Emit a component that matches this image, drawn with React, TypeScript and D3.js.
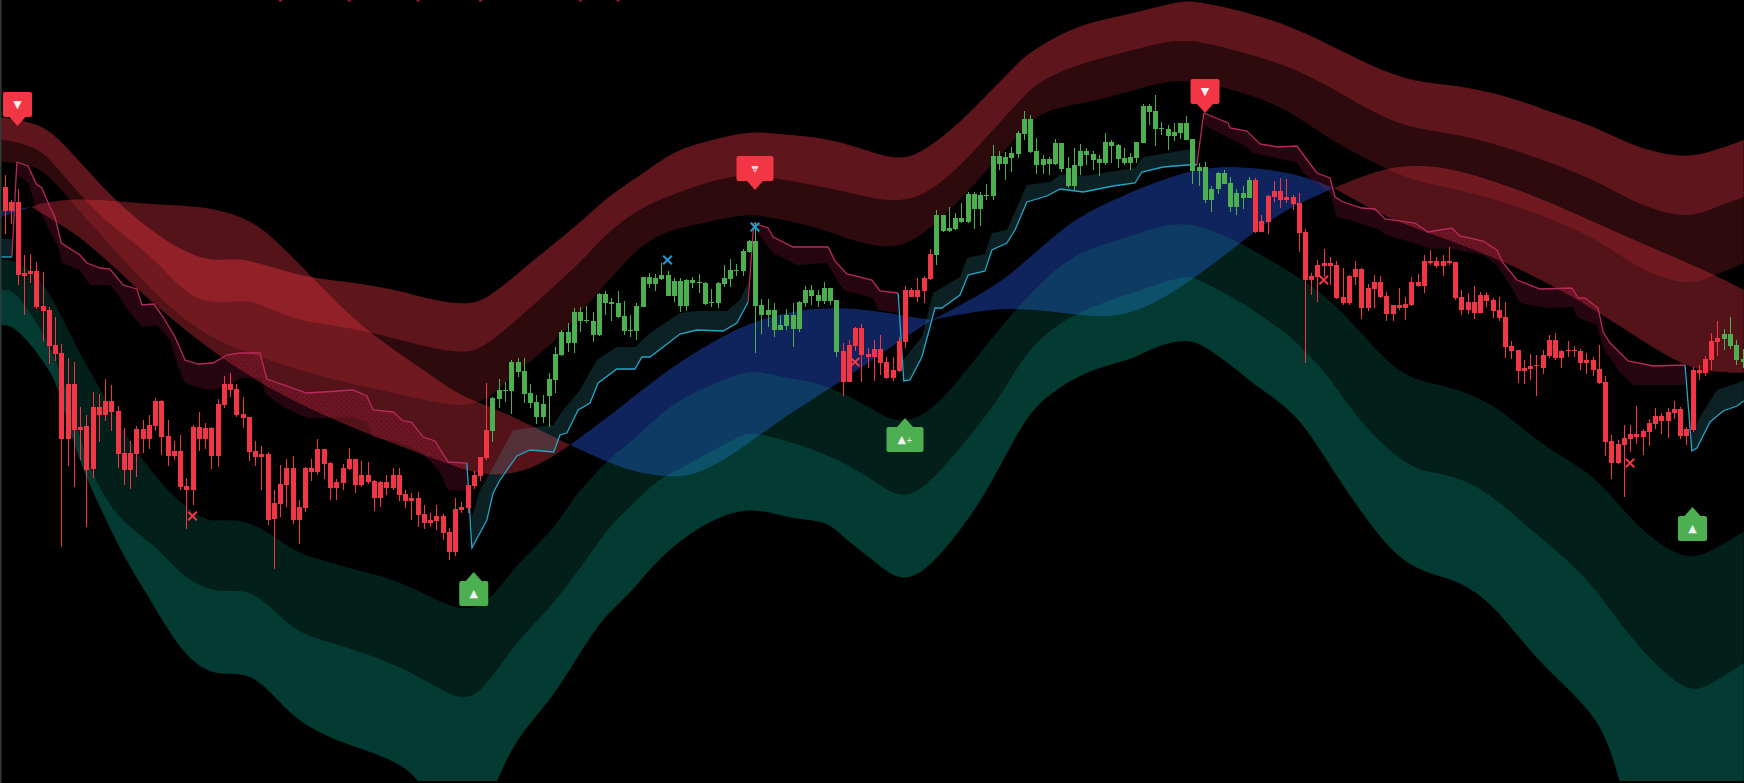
import * as d3 from 'd3'

type Pt = [number, number]

const WIDTH = 1744
const HEIGHT = 783
const BAR_COUNT = 279

// candle values, one entry per bar
const BODY_TOP = [
  613,598,598,527,529,529,494,490,455,447,416,416,373,374,393,393,399,399,389,347,
  347,371,371,375,399,399,364,349,349,314,373,373,372,372,396,416,416,411,
  386,383,349,346,346,297,316,332,332,293,332,332,351,351,337,318,332,341,341,325,
  325,319,318,318,325,325,306,302,302,286,280,284,284,268,291,293,315,325,343,370,
  402,410,
  410,438,438,429,407,398,396,421,446,468,468,488,488,480,479,506,506,498,497,484,
  470,494,523,523,522,525,525,519,519,520,520,518,517,498,517,522,530,530,549,559,
  559,495,490,490,475,485,485,498,510,510,505,512,512,500,449,455,472,472,446,451,
  451,438,430,459,510,510,510,522,546,
  585,585,572,582,582,606,606,605,605,644,644,643,647,667,681,681,649,641,641,657,
  657,632,635,649,649,646,641,658,658,655,642,643,658,694,694,689,672,671,668,677,
  677,661,633,633,611,627,627,617,607,607,620,620,579,604,609,609,603,603,597,
  568,524,535,537,537,535,503,524,531,531,512,518,518,504,495,495,496,518,518,539,
  539,539,539,539,538,503,498,498,505,505,500,490,483,454,450,432,434,435,445,460,
  460,449,450,450,449,440,440,431,418,359,356,362,366,366,369,377,384,384,388,391,
  391,371,430,430,441,459,462,466,466,455,441,
]
const BODY_BOTTOM = [
  589,589,525,524,526,493,489,454,446,361,361,370,370,330,331,385,385,388,346,330,
  330,346,361,361,374,363,344,344,313,310,310,361,361,344,344,395,410,385,
  382,348,343,343,280,281,296,315,280,280,292,328,328,336,312,312,317,331,315,315,
  318,302,302,312,312,305,299,299,285,277,277,279,267,248,248,290,292,314,324,342,
  369,401,
  409,409,428,406,397,383,383,404,420,445,457,457,479,479,465,465,497,496,483,469,
  469,469,493,516,516,521,504,504,494,494,517,517,496,497,497,516,521,529,529,548,
  494,485,485,470,470,474,471,471,497,504,499,499,499,448,418,418,454,445,443,443,
  437,422,422,429,458,503,503,509,521,
  545,569,569,571,578,578,591,591,604,604,636,636,642,646,666,648,635,635,636,636,
  631,614,614,634,645,640,637,637,654,641,637,637,642,657,688,671,671,664,664,667,
  660,629,629,600,600,611,616,593,593,602,602,568,568,578,603,600,600,596,567,
  520,520,523,534,534,502,497,497,523,492,492,511,503,486,486,492,492,495,514,514,
  537,534,534,537,502,490,490,487,487,499,489,482,453,449,429,429,431,434,432,444,
  442,442,449,449,437,437,430,417,358,337,337,355,361,363,363,368,376,379,379,387,
  364,364,370,427,427,440,458,461,454,440,438,
]
const WICK_TOP = [
  625,600,611,545,546,538,528,493,483,456,442,438,393,385,408,406,421,415,394,372,
  359,374,380,385,402,400,380,359,365,322,375,388,377,373,401,424,427,416,
  403,383,359,354,348,310,335,341,344,300,333,341,361,351,338,321,336,352,341,339,
  338,320,319,325,332,332,310,307,308,295,287,295,286,272,302,298,315,329,343,417,
  403,421,
  418,440,442,442,416,405,405,427,453,470,477,492,493,494,488,507,509,502,509,499,
  485,497,523,527,526,537,529,522,522,521,523,526,518,511,518,535,541,536,551,560,
  578,501,501,497,485,491,497,499,514,515,510,518,512,500,457,460,473,476,452,460,
  465,443,443,463,514,512,522,524,551,
  590,585,593,587,597,608,608,608,616,655,649,648,653,669,689,685,662,645,643,661,
  657,643,652,656,652,649,645,667,660,656,652,647,658,696,696,705,678,675,677,677,
  684,661,637,638,614,628,630,623,611,614,623,622,585,605,619,622,621,605,607,
  571,527,540,551,543,539,532,525,539,532,516,525,524,508,495,512,503,523,526,545,
  550,543,545,553,538,510,507,514,508,508,502,503,498,459,450,440,446,445,450,465,
  467,450,459,454,451,447,443,455,424,365,360,375,375,394,371,381,392,387,392,399,
  393,373,433,435,444,467,479,471,483,460,451,
]
const WICK_BOTTOM = [
  566,576,515,485,517,491,459,436,439,253,334,313,340,273,322,358,379,369,332,315,
  311,323,347,351,369,345,334,340,310,271,295,349,351,331,333,392,403,383,
  372,339,334,310,275,231,283,293,276,256,288,319,325,321,300,300,310,330,307,313,
  316,289,293,305,310,299,292,280,273,271,273,270,260,240,244,287,287,311,319,340,
  358,392,
  398,386,423,397,392,376,377,373,407,444,448,447,468,477,458,464,485,479,482,465,
  463,460,493,512,509,520,504,498,488,489,512,507,495,493,492,513,513,524,524,547,
  447,466,473,463,470,470,453,468,493,495,493,496,495,443,404,418,449,418,432,419,
  425,421,419,428,452,503,498,497,520,
  535,568,568,570,577,577,571,574,600,600,630,620,628,642,660,647,626,626,625,635,
  628,612,609,625,635,630,624,635,637,632,635,630,637,657,675,654,665,650,659,661,
  660,616,614,597,588,606,616,588,585,591,602,567,568,566,598,592,597,590,548,
  437,505,498,523,515,501,495,495,515,481,489,492,502,479,479,490,480,494,513,507,
  535,532,524,535,500,485,486,481,487,493,482,479,442,441,417,416,420,404,426,442,
  440,432,443,443,430,426,424,416,344,321,336,303,348,356,345,354,371,366,362,381,
  361,355,368,420,424,430,444,450,451,435,432,
]
const UP_TREND_RANGES: Pt[] = [[78, 133], [149, 199], [275, 278]]

// upper zone edges, [bar, price]
const UPPER_TOP: Pt[] = [[-1,683],[5.3,677],[8.3,664],[13.3,629],[18.2,596],[23.7,568],[28.6,548],[33.4,538],[37.1,543],[42.1,534],[49.4,521],[55.5,518],[62.2,511],[68.3,500],[73.6,495],[77.1,500],[84,537],[87.2,553],[92.5,580],[96.3,603],[101.1,622],[105.3,642],[109.6,655],[118.7,669],[122.4,667],[131.5,662],[136.3,653],[142.7,639],[146.9,647],[153.9,683],[162.4,740],[164.6,750],[169.9,770],[175.2,780],[180.8,787],[188.4,800],[191,798],[197.6,790],[206.1,773],[212,755],[223.8,718],[231.7,716],[241,703],[246.3,690],[254.7,673],[260.6,653],[268.8,641],[273.8,650],[278.2,660]]
const UPPER_MID: Pt[] = [[-1,661],[5.3,654],[8.3,632],[13.3,596],[17.6,571],[23.7,543],[29.1,504],[33.4,496],[38.4,500],[40.8,496],[45.8,482],[49.4,477],[57.4,470],[66.6,454],[73.6,446],[76.5,452],[81.9,480],[87.2,510],[92.5,540],[96.3,567],[101.6,592],[105.9,603],[111.7,617],[119.2,628],[124.5,620],[130.9,613],[135.2,607],[142.7,596],[148,607],[153.9,640],[161.9,697],[165.1,717],[169.3,730],[175.2,742],[180.8,750],[188.6,764],[197.6,748],[206.7,732],[216,698],[223.8,672],[231.7,667],[241,652],[254.7,620],[260.6,597],[268.8,580],[273.8,593],[278.2,603]]
const UPPER_BOTTOM: Pt[] = [[-1,638],[4.5,637],[7.7,620],[10.4,600],[14.9,568],[22.6,515],[30.4,470],[38.2,448],[46.1,432],[53.9,418],[61.6,408],[69.4,397],[73.6,393],[78.1,403],[81.9,430],[87.2,453],[92.5,490],[97.9,530],[103.2,563],[108.5,573],[113.9,580],[119.2,587],[124.5,580],[129.9,573],[135.2,560],[142.7,548],[148.5,573],[153.9,607],[161.9,663],[165.1,688],[172.5,697],[175.2,701],[180.8,710],[188.6,724],[197.6,708],[204.8,693],[212,660],[217.3,643],[224.5,620],[231.7,612],[241,597],[254.7,563],[260.6,533],[268.8,513],[273.8,525],[278.2,537]]

// cloud edges between the crossings
const CLOUD_BLUE_0_TOP: Pt[] = [[-1,589],[4.2,593]]
const CLOUD_BLUE_0_BOTTOM: Pt[] = [[-1,582],[4.2,593]]
const CLOUD_RED_1_TOP: Pt[] = [[4.2,593],[5.3,596],[11.5,603],[23.7,595],[32.3,594],[38.4,582],[42.1,568],[49.4,521],[57.4,470],[66.6,432],[72.6,404],[78.2,393],[90.4,355]]
const CLOUD_RED_1_BOTTOM: Pt[] = [[4.2,593],[10.2,571],[14.6,550],[23.7,496],[32.3,452],[42.1,411],[54.2,375],[66.6,346],[73.9,329],[78.7,323],[85,332],[90.4,355]]
const CLOUD_BLUE_1_TOP: Pt[] = [[90.4,355],[98,390],[105.3,427],[111.7,453],[118.1,475],[124.5,487],[129.9,492],[135.2,492],[140.5,488],[145.9,482],[148.3,480]]
const CLOUD_BLUE_1_BOTTOM: Pt[] = [[90.4,355],[96.3,338],[101.1,327],[107.5,322],[111.2,327],[117.1,347],[124.5,383],[132.5,413],[142.7,457],[148.3,480]]
const CLOUD_BLUE_2_TOP: Pt[] = [[148.3,480],[156.5,507],[161.3,527],[169.3,573],[175.2,595],[188.5,630],[196.8,635],[206.7,627],[212.6,612]]
const CLOUD_BLUE_2_BOTTOM: Pt[] = [[148.3,480],[156.5,490],[162,492],[170,487],[176.8,481],[183.2,493],[190.7,523],[197.6,557],[204.5,590],[212.6,612]]
const CLOUD_RED_2_TOP: Pt[] = [[212.6,612],[220.5,632],[225.8,635],[231.7,632],[241,613],[247.5,597],[260.6,560],[273.8,525],[278.2,510]]
const CLOUD_RED_2_BOTTOM: Pt[] = [[212.6,612],[221.1,582],[227.8,567],[241,537],[254.7,490],[267.2,437],[272.5,428],[278.2,427]]

// lower zone edges
const LOWER_TOP: Pt[] = [[-1,541],[1.1,540],[3.5,533],[6.1,517],[8.3,493],[10.4,467],[12.5,440],[14.7,417],[17.3,387],[20.5,353],[23.7,327],[26.9,303],[31.2,283],[33.3,278],[37.8,282],[42.4,267],[46.6,247],[50.6,240],[56.2,230],[63.5,218],[69,200],[73.1,189],[77.3,195],[81.9,237],[87.4,267],[91,303],[93.6,320],[96.3,340],[101.1,363],[104.3,383],[108.5,403],[113.9,417],[119.2,432],[124.5,422],[129.9,418],[134.1,407],[138.4,392],[143,375],[148,387],[152.6,420],[158.1,463],[161.8,492],[169.3,540],[175.2,555],[181.8,567],[188.6,582],[197.6,558],[201.4,543],[210.7,510],[217.3,465],[223.8,420],[230.7,415],[238.1,397],[243.5,367],[249.1,343],[254.6,323],[259.2,287],[263.7,260],[268.8,241],[272,245],[278.2,268]]
const LOWER_MID: Pt[] = [[-1,510],[0.8,511],[2.4,502],[4.5,483],[6.7,460],[8.8,430],[11.5,373],[13.6,330],[17.1,290],[20.5,270],[24,255],[28.6,222],[33.6,207],[37.8,211],[41,203],[46.1,170],[50.6,160],[56.2,150],[63.5,133],[69.9,110],[73.1,100],[76.3,107],[81.9,160],[87.4,193],[93,240],[96.5,273],[101.1,300],[104.3,320],[108.5,333],[117.1,363],[119.2,368],[122.4,364],[128.8,352],[134.2,338],[138.9,320],[143,302],[146.6,308],[152.6,350],[159,400],[162.7,443],[168.2,477],[175.2,497],[181.8,510],[188.6,525],[190.7,522],[198.2,497],[203.5,473],[206.1,462],[212,423],[215,393],[220.6,353],[226.1,328],[230.7,327],[237.1,310],[243.5,273],[253.6,223],[260,160],[268.8,107],[272,112],[278.2,137]]
// this edge runs off the bottom of the pane and is cut there
const LOWER_BOTTOM: Pt[] = [[-1,475],[0.8,475],[2.4,467],[4.5,453],[6.7,433],[8.3,417],[10.4,367],[13.1,320],[15.7,287],[17.9,257],[20.3,230],[23,203],[28.6,143],[33.6,124],[37.8,128],[41.4,117],[46.6,78],[53.4,58],[61.6,42],[66,24],[69,-10],[73,-40],[77,-10],[79,25],[82.4,67],[87.4,100],[92,147],[95.7,183],[100.2,207],[103.8,237],[110.4,272],[118.6,296],[125.9,280],[131.5,280],[134.2,262],[138.9,240],[143,218],[147,227],[151.7,260],[156.3,300],[160,343],[163.7,387],[168.2,412],[174.7,433],[180.2,440],[183.8,453],[189,462],[192.2,453],[196.6,433],[200.3,413],[206.7,387],[211.4,340],[217,287],[223.8,233],[230.7,223],[235.2,210],[239.8,183],[245.4,137],[254.6,87],[257.5,40],[259.5,-10],[262,-60],[278.2,-60]]

// trailing stop, resistance legs
const RESIST_1: Pt[] = [[1.9,638],[3.7,634],[5,616],[5.9,612],[7.2,593],[8,583],[9,557],[12,545],[13.1,537],[15.2,532],[16.8,531],[18.9,515],[21.1,511],[21.9,495],[23.8,496],[25.3,483],[27.2,463],[28.8,440],[30.9,436],[33.3,437],[35.5,445],[37.6,447],[40.8,447],[41.9,421],[48.3,407],[50.9,408],[55.7,410],[57.9,404],[58.9,390],[62.1,388],[63.7,379],[65,378],[66.9,363],[68.8,359],[70.9,338],[73.9,337]]
const RESIST_1_LOW: Pt[] = [[1.9,625],[3.7,618],[4.8,595],[5.9,585],[7.2,568],[8.5,553],[9.1,537],[12,530],[13.6,515],[16.8,515],[18.1,505],[19.7,490],[21.9,473],[24.3,475],[26.4,460],[27.5,437],[28.8,417],[31.2,412],[33.3,410],[36.5,417],[37.6,422],[41.1,422],[41.6,407],[44.5,393],[48.3,382],[50.9,382],[55.7,383],[58.1,377],[58.9,363],[62.7,358],[65.3,352],[67.5,342],[69.6,328],[70.9,310],[73.9,309]]
const RESIST_2: Pt[] = [[119.8,577],[122.1,572],[122.9,563],[126.1,553],[131.7,553],[132.8,539],[134.7,526],[138.7,520],[140,509],[142.9,507]]
const RESIST_2_LOW: Pt[] = [[119.8,572],[122.9,547],[126.7,535],[131.5,537],[134.1,510],[138.9,502],[139.7,490],[142.9,487]]
const RESIST_3: Pt[] = [[191.8,687],[195.7,677],[196,672],[198.7,669],[200.8,656],[203.7,653],[206.7,654],[209.9,627],[212,622],[212.8,603],[214.1,598],[217.1,592],[219.2,591],[220.8,581],[225.6,577],[227.7,568],[231.5,572],[232.8,564],[236.5,559],[238.7,550],[239.7,537],[241.9,520],[245.6,511],[250.7,512],[251.7,502],[252.8,502],[254.9,492],[255.7,468],[256.8,457],[259.7,439],[263.7,434],[268.8,435]]
const RESIST_3_LOW: Pt[] = [[191.8,675],[198.7,653],[199.7,647],[206.7,638],[207.7,627],[212,607],[213.1,583],[215.2,580],[220,570],[221.1,565],[228.5,551],[230.7,552],[236.5,545],[238.7,535],[241.3,510],[242.4,497],[246.7,492],[250.9,493],[251.5,483],[254.7,475],[255.7,452],[258.4,427],[260.5,415],[268.8,415]]

// trailing stop, support legs
const SUPPORT_0: Pt[] = [[-1,543],[1.1,543]]
const SUPPORT_0_HIGH: Pt[] = [[-1,561],[1.1,561]]
const SUPPORT_1: Pt[] = [[73.9,337],[74.7,252],[77.1,280],[78.1,307],[79.2,320],[81.9,344],[84,350],[87.8,348],[88.8,365],[89.9,367],[91.7,390],[93.6,397],[94.9,417],[97.9,431],[100.8,431],[101.9,443],[103.2,443],[108,466],[110.7,470],[114.9,469],[117.1,477],[118.9,498]]
const SUPPORT_1_HIGH: Pt[] = [[74.7,283],[76,310],[78.1,333],[81.3,370],[87.7,375],[89.3,390],[92,410],[94.7,440],[97.9,453],[100.8,453],[103.2,467],[108,487],[110.7,489],[115.5,489],[117.6,500],[118.9,517]]
const SUPPORT_2: Pt[] = [[142.9,507],[143.8,419],[144.8,420],[146.7,443],[148,473],[148.8,492],[149.9,492],[152.8,505],[154.1,525],[156.8,529],[157.9,550],[160.3,557],[161.6,570],[163.5,598],[166.7,604],[168.8,611],[172.5,608],[177.3,614],[180.8,617],[181.9,628],[185.3,633],[189.1,635],[190.7,635]]
const SUPPORT_2_HIGH: Pt[] = [[143.7,440],[146.7,463],[148.5,507],[152.8,523],[153.9,542],[156.8,546],[157.9,567],[160.3,570],[163.5,615],[167.2,618],[168.8,625],[172.5,624],[180.8,632],[182.1,643],[188.8,650],[190.7,650]]
const SUPPORT_3: Pt[] = [[268.8,435],[269.9,349],[270.7,352],[272.8,378],[274.9,389],[277.1,394],[278.2,399]]
const SUPPORT_3_HIGH: Pt[] = [[269.8,367],[271.2,383],[273.9,410],[278.2,419]]
// short pink flips from a support leg to the next resistance leg
const FLIP_1: Pt[] = [[1.1,543],[1.9,638]]
const FLIP_2: Pt[] = [[118.9,498],[119.8,577]]
const FLIP_3: Pt[] = [[190.7,635],[191.8,687]]

// signal flags and crosses
const SELL_BARS = [2, 120, 192]
const SELL_TIPS = [674, 610, 687]
const SELL_PLUS = [false, true, false]
const BUY_BARS = [75, 144, 270]
const BUY_TIPS = [228, 382, 293]
const BUY_PLUS = [false, true, false]
const RED_CROSS_BARS = [30, 136, 211, 260]
const RED_CROSS_PRICES = [284, 438, 520, 337]
const BLUE_CROSS_BARS = [106, 120]
const BLUE_CROSS_PRICES = [540, 573]
const CLIPPED_TEXT_BARS = [44, 55, 66, 76, 92, 98]

const RED = '#f23645'
const GREEN = '#4caf50'
const CYAN = '#22a7c9'
const PINK = '#b92a5c'

const x = d3.scaleLinear().domain([0, BAR_COUNT - 1]).range([5, 5 + (BAR_COUNT - 1) * 6.25])
const y = d3.scaleLinear().domain([0, 800]).range([800, 0])

const smooth = d3.line<Pt>().x((d) => x(d[0])).y((d) => y(d[1])).curve(d3.curveBasis)
const straight = d3.line<Pt>().x((d) => x(d[0])).y((d) => y(d[1]))

function ribbon(top: Pt[], bottom: Pt[], gen = smooth) {
  const back = gen([...bottom].reverse()) ?? ''
  return `${gen(top)}L${back.slice(1)}Z`
}

const isUp = (i: number) => UP_TREND_RANGES.some(([a, b]) => i >= a && i <= b)

const crossPath = d3.symbol(d3.symbolTimes, 50)()

function Flag({ bar, tip, plus, down }: { bar: number; tip: number; plus: boolean; down: boolean }) {
  const cx = x(bar)
  const ty = y(tip)
  const w = plus ? 37 : 29
  const dir = down ? -1 : 1
  const near = ty + dir * 9
  const far = ty + dir * 34
  const top = Math.min(near, far)
  const midY = top + 12.5
  const fill = down ? RED : GREEN
  return (
    <g>
      <rect x={cx - w / 2} y={top} width={w} height={25} rx={2} fill={fill} />
      <path d={`M${cx - 8},${near}L${cx},${ty}L${cx + 8},${near}Z`} fill={fill} />
      <text
        x={cx}
        y={midY}
        textAnchor="middle"
        dominantBaseline="central"
        fontFamily="DejaVu Sans"
        fontSize={plus && down ? 9 : 11}
        fill="#f2f2f2"
      >
        {down ? '▼' : '▲'}
        {plus && !down && <tspan fontSize={8}>+</tspan>}
      </text>
      {plus && down && (
        <text
          x={cx}
          y={midY + 1}
          textAnchor="middle"
          dominantBaseline="central"
          fontFamily="DejaVu Sans"
          fontSize={7}
          fill={fill}
        >
          +
        </text>
      )}
    </g>
  )
}

export default function App() {
  const bars = d3.range(BAR_COUNT)
  return (
    <svg
      width={WIDTH}
      height={HEIGHT}
      viewBox={`0 0 ${WIDTH} ${HEIGHT}`}
      style={{ position: 'fixed', left: 0, top: 0, display: 'block', background: '#000' }}
    >
      <defs>
        <clipPath id="pane">
          <rect x={0} y={0} width={WIDTH} height={781} />
        </clipPath>
        <pattern id="stopDots" width={5} height={5} patternUnits="userSpaceOnUse">
          <rect width={5} height={5} fill="rgba(233,30,99,0.17)" />
          <circle cx={1.5} cy={1.5} r={0.6} fill="#000" opacity={0.45} />
          <circle cx={4} cy={4} r={0.6} fill="#000" opacity={0.45} />
        </pattern>
        <pattern id="zoneDots" width={4} height={4} patternUnits="userSpaceOnUse">
          <rect width={4} height={4} fill="rgba(242,54,69,0.19)" />
          <circle cx={1} cy={1} r={0.5} fill="#000" opacity={0.15} />
          <circle cx={3} cy={3} r={0.5} fill="#000" opacity={0.15} />
        </pattern>
      </defs>

      <g clipPath="url(#pane)">
        <g fill="rgba(41,98,255,0.36)">
          <path d={ribbon(CLOUD_BLUE_0_TOP, CLOUD_BLUE_0_BOTTOM)} />
          <path d={ribbon(CLOUD_BLUE_1_TOP, CLOUD_BLUE_1_BOTTOM)} />
          <path d={ribbon(CLOUD_BLUE_2_TOP, CLOUD_BLUE_2_BOTTOM)} />
        </g>
        <g fill="rgba(242,54,69,0.35)">
          <path d={ribbon(CLOUD_RED_1_TOP, CLOUD_RED_1_BOTTOM)} />
          <path d={ribbon(CLOUD_RED_2_TOP, CLOUD_RED_2_BOTTOM)} />
        </g>

        <path d={ribbon(UPPER_TOP, UPPER_MID)} fill="rgba(242,54,69,0.39)" />
        <path d={ribbon(UPPER_MID, UPPER_BOTTOM)} fill="url(#zoneDots)" />
        <path d={ribbon(LOWER_TOP, LOWER_MID)} fill="rgba(8,153,129,0.2)" />
        <path d={ribbon(LOWER_MID, LOWER_BOTTOM)} fill="rgba(8,153,129,0.39)" />

        <g fill="url(#stopDots)">
          <path d={ribbon(RESIST_1, RESIST_1_LOW, straight)} />
          <path d={ribbon(RESIST_2, RESIST_2_LOW, straight)} />
          <path d={ribbon(RESIST_3, RESIST_3_LOW, straight)} />
        </g>
        <g fill="rgba(77,208,225,0.16)">
          <path d={ribbon(SUPPORT_0_HIGH, SUPPORT_0, straight)} />
          <path d={ribbon(SUPPORT_1_HIGH, SUPPORT_1.slice(1), straight)} />
          <path d={ribbon(SUPPORT_2_HIGH, SUPPORT_2.slice(1), straight)} />
          <path d={ribbon(SUPPORT_3_HIGH, SUPPORT_3.slice(1), straight)} />
        </g>
        <g fill="none" strokeWidth={1.3} stroke={PINK}>
          {[RESIST_1, RESIST_2, RESIST_3, FLIP_1, FLIP_2, FLIP_3].map((leg, i) => (
            <path key={i} d={straight(leg) ?? ''} />
          ))}
        </g>
        <g fill="none" strokeWidth={1.3} stroke={CYAN}>
          {[SUPPORT_0, SUPPORT_1, SUPPORT_2, SUPPORT_3].map((leg, i) => (
            <path key={i} d={straight(leg) ?? ''} />
          ))}
        </g>

        <g shapeRendering="crispEdges">
          {bars.map((i) => {
            const cx = Math.round(x(i))
            const color = isUp(i) ? GREEN : RED
            const bodyTop = y(BODY_TOP[i])
            return (
              <g key={i} fill={color}>
                <rect x={cx} y={y(WICK_TOP[i])} width={1} height={y(WICK_BOTTOM[i]) - y(WICK_TOP[i])} />
                <rect x={cx - 2} y={bodyTop} width={5} height={Math.max(1, y(BODY_BOTTOM[i]) - bodyTop)} />
              </g>
            )
          })}
        </g>

        <g fill="none" strokeWidth={2}>
          {RED_CROSS_BARS.map((b, i) => (
            <path
              key={b}
              d={crossPath ?? ''}
              stroke={RED}
              transform={`translate(${x(b)},${y(RED_CROSS_PRICES[i])})`}
            />
          ))}
          {BLUE_CROSS_BARS.map((b, i) => (
            <path
              key={b}
              d={crossPath ?? ''}
              stroke="#1f9ccb"
              transform={`translate(${x(b)},${y(BLUE_CROSS_PRICES[i])})`}
            />
          ))}
        </g>

        {SELL_BARS.map((b, i) => (
          <Flag key={b} bar={b} tip={SELL_TIPS[i]} plus={SELL_PLUS[i]} down />
        ))}
        {BUY_BARS.map((b, i) => (
          <Flag key={b} bar={b} tip={BUY_TIPS[i]} plus={BUY_PLUS[i]} down={false} />
        ))}
      </g>

      {CLIPPED_TEXT_BARS.map((b) => (
        <rect key={b} x={x(b) - 1} y={0} width={3} height={1.5} fill="#a3182a" />
      ))}
      <rect x={0} y={0} width={1.5} height={HEIGHT} fill="#2f3a3a" />
    </svg>
  )
}
